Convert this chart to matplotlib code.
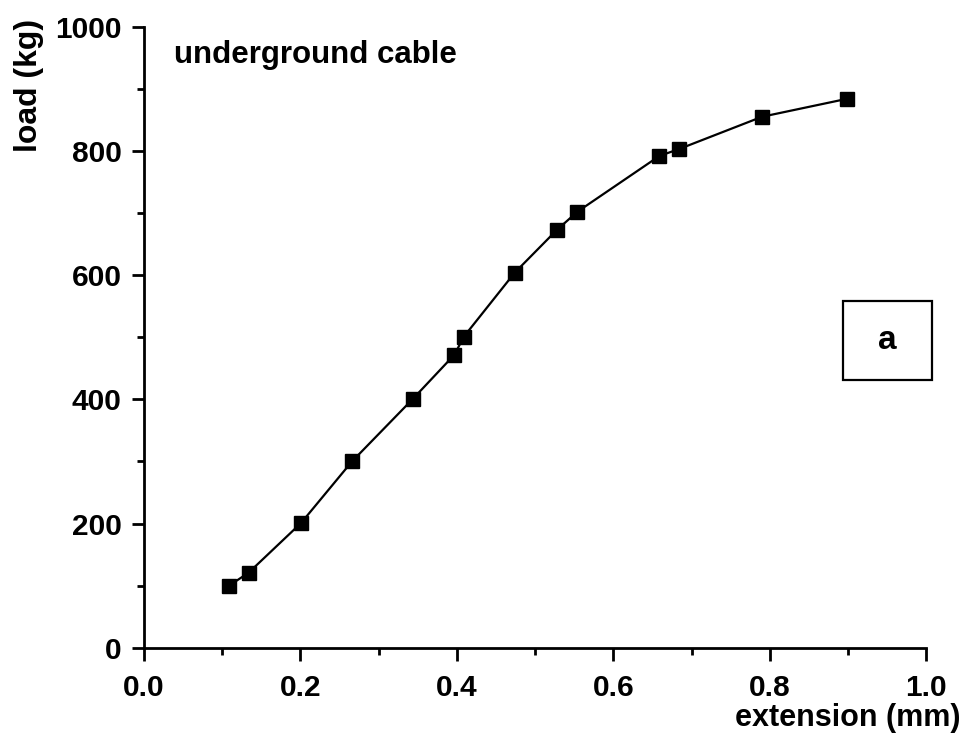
import matplotlib
matplotlib.use('Agg')
import matplotlib.pyplot as plt
from matplotlib.ticker import MultipleLocator
from matplotlib.patches import Rectangle

# extension (mm) vs load (kg)
ext = [0.109, 0.134, 0.201, 0.266, 0.344, 0.397, 0.409, 0.474, 0.528, 0.554, 0.659, 0.684, 0.790, 0.899]
load = [100, 121, 201, 300, 401, 472, 501, 604, 673, 702, 792, 803, 855, 884]

plt.rcParams['font.family'] = ['Liberation Sans', 'DejaVu Sans']
plt.rcParams['font.weight'] = 'bold'

fig = plt.figure(figsize=(9.72, 7.42), dpi=100)
ax = fig.add_axes([0.148, 0.127, 0.805, 0.837])

ax.plot(ext, load, '-', color='black', lw=1.6, marker='s', ms=10, mfc='black', mec='black')

ax.set_xlim(0, 1.0)
ax.set_ylim(0, 1000)
ax.xaxis.set_major_locator(MultipleLocator(0.2))
ax.xaxis.set_minor_locator(MultipleLocator(0.1))
ax.yaxis.set_major_locator(MultipleLocator(200))
ax.yaxis.set_minor_locator(MultipleLocator(100))
ax.xaxis.set_major_formatter(plt.FormatStrFormatter('%.1f'))

for s in ['top', 'right']:
    ax.spines[s].set_visible(False)
for s in ['left', 'bottom']:
    ax.spines[s].set_linewidth(2)
ax.tick_params(which='major', direction='out', length=9, width=2, labelsize=21.5)
ax.tick_params(axis='x', which='major', pad=10)
ax.tick_params(axis='y', which='major', pad=7)
ax.tick_params(which='minor', direction='out', length=5, width=2)
for lab in ax.get_xticklabels() + ax.get_yticklabels():
    lab.set_fontweight('bold')

ax.text(0.038, 0.955, 'underground cable', transform=ax.transAxes, fontsize=22.5,
        fontweight='bold', va='center', ha='left')

ax.add_patch(Rectangle((0.894, 0.431), 0.113, 0.127, transform=ax.transAxes,
                       fill=False, lw=1.6, ec='black', clip_on=False))
ax.text(0.950, 0.495, 'a', transform=ax.transAxes, fontsize=24, fontweight='bold',
        ha='center', va='center')

fig.text(0.988, 0.032, 'extension (mm)', fontsize=22, fontweight='bold', ha='right', va='center')
fig.text(0.030, 0.885, 'load (kg)', fontsize=23, fontweight='bold', rotation=90, ha='center', va='center')

fig.savefig('out.png', dpi=100)
